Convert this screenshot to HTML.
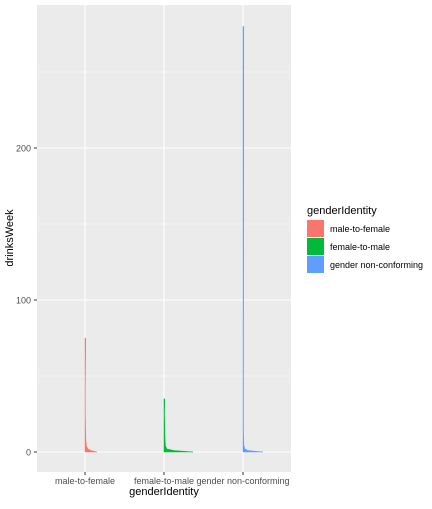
<!DOCTYPE html>
<html><head><meta charset="utf-8"><style>
body{margin:0;background:#fff;font-family:"Liberation Sans",sans-serif}
svg text{font-family:"Liberation Sans",sans-serif}
</style></head><body>
<svg id="c" width="432" height="504">
<rect x="37" y="5" width="254" height="467" fill="#ebebeb"/>
<g id="grid"></g><g id="marks"></g><g id="axes"></g>
<g>
<text x="307" y="214" font-size="11" fill="#000">genderIdentity</text>
<g id="leg"></g>
</g>
<text x="164" y="495" font-size="11" text-anchor="middle" fill="#000">genderIdentity</text>
<text transform="translate(13,238) rotate(-90)" font-size="11" text-anchor="middle" fill="#000">drinksWeek</text>
</svg>
<script>
const categories=["male-to-female","female-to-male","gender non-conforming"];
const colors=["#F8766D","#00BA38","#619CFF"];
const yLevels=[0,1,2,4,7,10,15,25,40];
const mtfWidths=[12,6,3,1.5,1,0.8,0.6,0.4,0.3];
const ftmWidths=[29,10,3,1.5,1.2,1,0.8,0.5,0.4];
const gncWidths=[20,5,2,1,0.7,0.6,0.5,0.5,0.5];
const maxValues=[75,35,280];
const yTicks=[0,100,200];
const widths=[mtfWidths,ftmWidths,gncWidths];
const NS="http://www.w3.org/2000/svg";
const y=v=>452-v*1.52, x=i=>85+i*79;
const grid=document.getElementById('grid'),marks=document.getElementById('marks'),axes=document.getElementById('axes'),leg=document.getElementById('leg');
function mk(tag,at,parent){const e=document.createElementNS(NS,tag);for(const k in at)e.setAttribute(k,at[k]);parent.appendChild(e);return e;}
[50,150,250].forEach(v=>{const l=mk('line',{x1:37,x2:291,y1:y(v),y2:y(v),stroke:'#f5f5f5','stroke-width':0.6},grid);

});
yTicks.forEach(v=>{const l=mk('line',{x1:37,x2:291,y1:y(v),y2:y(v),stroke:'#fff','stroke-width':1.1},grid);


const t=mk('text',{x:31,y:y(v)+3.5,'font-size':9,'text-anchor':'end',fill:'#4d4d4d'},axes);t.textContent=v;


mk('line',{x1:34,x2:37,y1:y(v),y2:y(v),stroke:'#333'},axes);});
categories.forEach((c,i)=>{const l=mk('line',{x1:x(i),x2:x(i),y1:5,y2:472,stroke:'#fff','stroke-width':1.1},grid);


mk('line',{x1:x(i),x2:x(i),y1:472,y2:475,stroke:'#333'},axes);
const t=mk('text',{x:x(i),y:484,'font-size':9,'text-anchor':'middle',fill:'#4d4d4d'},axes);t.textContent=c;


let pts=[];const w=widths[i];
yLevels.forEach((lv,j)=>{if(lv<=maxValues[i])pts.push((x(i)+w[j])+','+y(lv));});
pts.push((x(i)+0.8)+','+y(maxValues[i]));pts.push(x(i)+','+y(maxValues[i]));pts.push(x(i)+','+y(0));
const p=mk('polygon',{points:pts.join(' '),fill:colors[i],stroke:colors[i],'stroke-width':0.5},marks);


const r=mk('rect',{x:307,y:220+i*18,width:17,height:17,fill:colors[i]},leg);


const lt=mk('text',{x:330,y:232+i*18,'font-size':9,fill:'#000'},leg);lt.textContent=c;

});
</script>
</body></html>
